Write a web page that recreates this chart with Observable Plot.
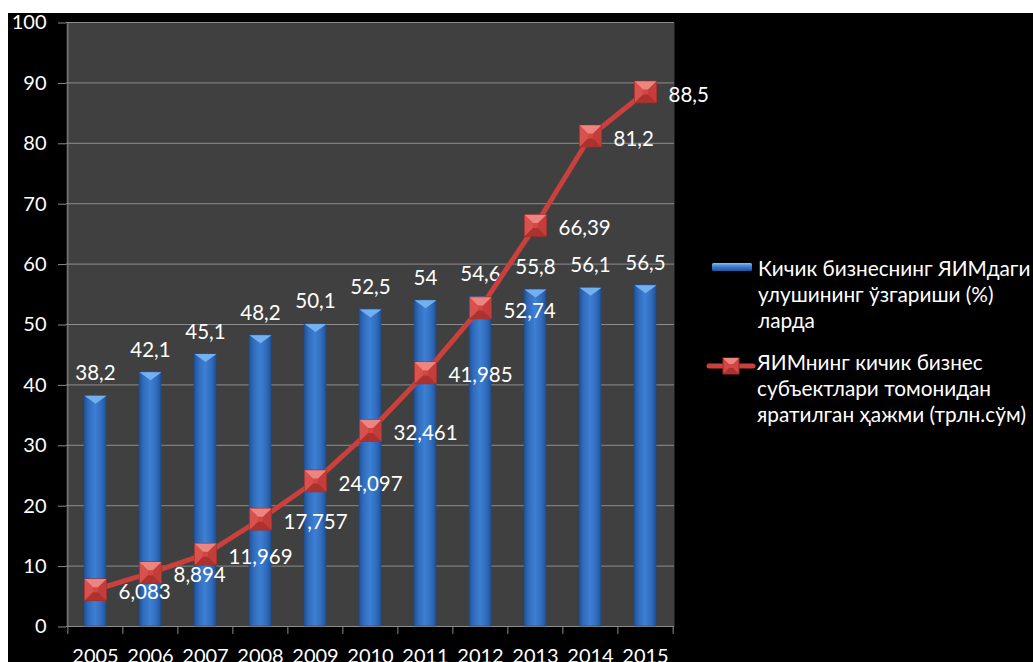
<!DOCTYPE html>
<html>
<head>
<meta charset="utf-8">
<script src="https://cdn.jsdelivr.net/npm/d3@7"></script>
<script src="https://cdn.jsdelivr.net/npm/@observablehq/plot@0.6"></script>
<style>
  html, body { margin: 0; padding: 0; background: #ffffff; width: 1033px; height: 662px; overflow: hidden; font-family: Lato, "Open Sans", sans-serif; }
  #panel { position: absolute; left: 8px; top: 13px; width: 1025px; height: 649px; background: #000; }
  #chart { position: absolute; left: 0; top: 0; }
  #chart svg { overflow: visible; }
  .leg { position: absolute; color: #fff; font-size: 20.8px; line-height: 26px; white-space: nowrap; font-family: Lato, sans-serif; }
  .sw { position: absolute; }
</style>
</head>
<body>
<div id="panel">
  <div id="chart"></div>
  <svg class="sw" id="sw1" style="left:702px;top:248px" width="44" height="12"></svg>
  <div class="leg" id="leg1" style="left:750px;top:242px"></div>
  <svg class="sw" id="sw2" style="left:697px;top:341px" width="52" height="24"></svg>
  <div class="leg" id="leg2" style="left:749px;top:336px"></div>
</div>
<script>
const years = ["2005", "2006", "2007", "2008", "2009", "2010", "2011", "2012", "2013", "2014", "2015"];
const shareValues = [38.2, 42.1, 45.1, 48.2, 50.1, 52.5, 54, 54.6, 55.8, 56.1, 56.5];
const volumeValues = [6.083, 8.894, 11.969, 17.757, 24.097, 32.461, 41.985, 52.74, 66.39, 81.2, 88.5];
const yTicks = [0, 10, 20, 30, 40, 50, 60, 70, 80, 90, 100];
const shareName = ["Кичик бизнеснинг ЯИМдаги", "улушининг ўзгариши (%)", "ларда"];
const volumeName = ["ЯИМнинг кичик бизнес", "субъектлари томонидан", "яратилган ҳажми (трлн.сўм)"];

const rows = years.map((year, i) => ({year, share: shareValues[i], volume: volumeValues[i]}));
const fmt = v => String(v).replace(".", ",");

// pyramid-like marker faces
const H = 10.8, I = 2.5;
const poly = pts => ({draw(ctx) { ctx.moveTo(pts[0][0], pts[0][1]); for (let k = 1; k < pts.length; k++) ctx.lineTo(pts[k][0], pts[k][1]); ctx.closePath(); }});
const faceTop = poly([[-H,-H],[H,-H],[I,-I],[-I,-I]]);
const faceBottom = poly([[-H,H],[H,H],[I,I],[-I,I]]);
const faceLeft = poly([[-H,-H],[-I,-I],[-I,I],[-H,H]]);
const faceRight = poly([[H,-H],[I,-I],[I,I],[H,H]]);
const faceOuter = poly([[-H,-H],[H,-H],[H,H],[-H,H]]);
const barCap = poly([[-11,0],[11,0],[0,8]]);

const W = 1025, HGT = 649;
const step = 608 / years.length;

const chart = Plot.plot({
  width: W,
  height: HGT,
  marginLeft: 58,
  marginRight: 359,
  marginTop: 9,
  marginBottom: 36,
  style: {background: "transparent", fontFamily: "Lato, sans-serif", color: "#ffffff", overflow: "visible"},
  x: {type: "band", domain: years, paddingInner: 0.6, paddingOuter: 0.3, label: null},
  y: {domain: [0, 100], label: null},
  marks: [
    Plot.frame({fill: "#404040", stroke: "none"}),
    Plot.gridY(yTicks, {stroke: "#8c8c8c", strokeOpacity: 1, strokeWidth: 1}),
    Plot.axisY({ticks: yTicks, tickSize: 8, tickPadding: 12, stroke: "#8c8c8c", fill: "#ffffff", fontSize: 20, dy: 0.5, label: null}),
    Plot.axisX({tickSize: 0, tickPadding: 22, fill: "#ffffff", fontSize: 20, label: null}),
    Plot.ruleX([years[0]], {y1: 0, y2: 100, dx: -step / 2, stroke: "#8c8c8c"}),
    Plot.ruleX(years, {y1: 0, y2: -1.3, dx: -step / 2, stroke: "#8c8c8c"}),
    Plot.ruleX([years[years.length - 1]], {y1: 0, y2: -1.3, dx: step / 2, stroke: "#8c8c8c"}),
    Plot.ruleY([0], {stroke: "#8c8c8c"}),
    Plot.barY(rows, {x: "year", y: "share", fill: "url(#barGrad)", stroke: "#1f4a86", strokeWidth: 0.6}),
    Plot.dot(rows, {x: "year", y: "share", symbol: barCap, fill: "#74b0f0", stroke: "none", r: 5}),
    Plot.text(rows, {x: "year", y: "share", text: d => fmt(d.share), dy: -22, fill: "#ffffff", fontSize: 20.5}),
    Plot.line(rows, {x: "year", y: "volume", stroke: "#c9403d", strokeWidth: 5, strokeLinejoin: "round", strokeLinecap: "round"}),
    Plot.dot(rows, {x: "year", y: "volume", symbol: faceOuter, fill: "#d24743", stroke: "#9b2b28", strokeWidth: 1, r: 5}),
    Plot.dot(rows, {x: "year", y: "volume", symbol: faceLeft, fill: "#d9514c", stroke: "none", r: 5}),
    Plot.dot(rows, {x: "year", y: "volume", symbol: faceRight, fill: "#c43d3a", stroke: "none", r: 5}),
    Plot.dot(rows, {x: "year", y: "volume", symbol: faceTop, fill: "#ec857f", stroke: "none", r: 5}),
    Plot.dot(rows, {x: "year", y: "volume", symbol: faceBottom, fill: "#ac322f", stroke: "none", r: 5}),
    Plot.text(rows, {x: "year", y: "volume", text: d => fmt(d.volume), dx: 23, dy: 3, textAnchor: "start", fill: "#ffffff", fontSize: 20.5})
  ]
});

// gradient defs for bars
const ns = "http://www.w3.org/2000/svg";
const defs = document.createElementNS(ns, "defs");
defs.innerHTML = `
  <linearGradient id="barGrad" x1="0" x2="1" y1="0" y2="0">
    <stop offset="0" stop-color="#1f5299"/>
    <stop offset="0.2" stop-color="#306bbb"/>
    <stop offset="0.5" stop-color="#3d80d4"/>
    <stop offset="0.8" stop-color="#306bbb"/>
    <stop offset="1" stop-color="#1f5299"/>
  </linearGradient>`;
chart.insertBefore(defs, chart.firstChild);
document.getElementById("chart").appendChild(chart);

// legend
document.getElementById("leg1").innerHTML = shareName.join("<br>");
document.getElementById("leg2").innerHTML = volumeName.join("<br>");
document.getElementById("sw1").innerHTML = `
  <defs><linearGradient id="lg1" x1="0" x2="0" y1="0" y2="1">
    <stop offset="0" stop-color="#8cc0f5"/><stop offset="0.4" stop-color="#3f82d6"/><stop offset="1" stop-color="#1f5299"/>
  </linearGradient></defs>
  <rect x="2" y="2" width="40" height="8" rx="1.5" fill="url(#lg1)"/>`;
document.getElementById("sw2").innerHTML = `
  <line x1="4" y1="12" x2="48" y2="12" stroke="#c9403d" stroke-width="5" stroke-linecap="round"/>
  <rect x="18" y="4" width="16" height="16" fill="#d24743" stroke="#9b2b28" stroke-width="1"/>
  <polygon points="18,4 34,4 28,10 24,10" fill="#ec857f"/>
  <polygon points="18,20 34,20 28,14 24,14" fill="#ac322f"/>`;
</script>
</body>
</html>
